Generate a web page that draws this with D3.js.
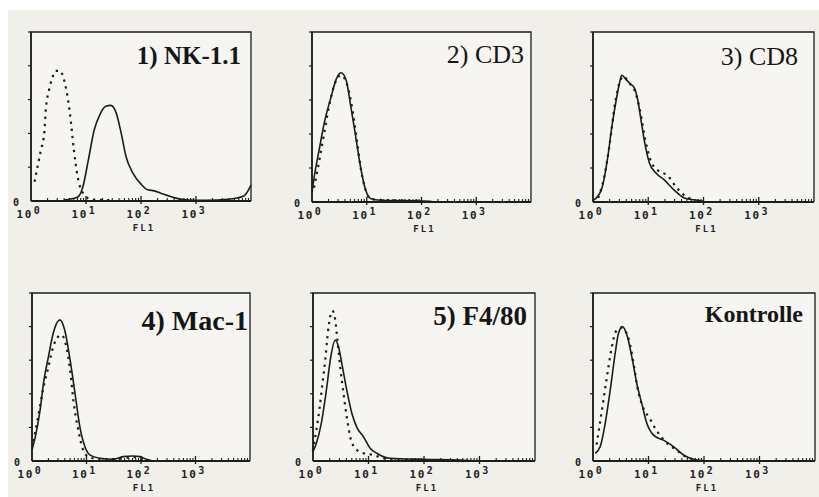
<!DOCTYPE html>
<html>
<head>
<meta charset="utf-8">
<script src="https://cdn.jsdelivr.net/npm/d3@7"></script>
<style>
  body { margin: 0; background: #ffffff; }
  .title { font-family: "Liberation Serif", "Times New Roman", serif; fill: #161616; }
  .tick-label { font-family: "DejaVu Sans Mono", monospace; font-weight: bold; fill: #222; }
</style>
</head>
<body>
<div id="my_dataviz"></div>
<script>
// panel titles
var titles = ["1) NK-1.1", "2) CD3", "3) CD8", "4) Mac-1", "5) F4/80", "Kontrolle"];

// x axis decades (FL1, log) and y ticks
var xDecades = [1, 10, 100, 1000, 10000];
var xTickLabels = ["10", "10", "10", "10"];
var xTickExps = ["0", "1", "2", "3"];
var yTicks = [0, 1, 2, 3, 4, 5];

// histograms: [FL1, count]
var nkSolid = [[3.98,0.03],[7.08,0.12],[8.71,0.4],[11,1.2],[14.1,2.1],[17.8,2.55],[22.9,2.8],[28.2,2.83],[35.5,2.6],[43.7,2.0],[53.7,1.3],[70.8,0.83],[100,0.5],[132,0.33],[174,0.3],[229,0.23],[398,0.1],[708,0.03],[1500,0.02],[3800,0.05],[7410,0.15],[10000,0.47]];
var nkDotted = [[1.17,0.6],[1.51,1.5],[1.74,2.0],[1.86,2.7],[2.14,3.3],[2.51,3.7],[2.82,3.85],[3.39,3.85],[3.8,3.7],[4.37,3.3],[5.01,2.7],[6.03,1.5],[7.08,0.7],[9.33,0.18],[12.3,0.05],[20,0.03],[32,0.02]];

var cd3Solid = [[1,0.3],[1.1,0.75],[1.35,1.53],[1.66,2.3],[2.24,3.1],[2.75,3.6],[3.39,3.8],[4.17,3.6],[5.13,2.8],[6.31,1.9],[7.76,1.0],[9.55,0.35],[11.7,0.1],[17.8,0.05],[110,0.03],[200,0.0]];
var cd3Dotted = [[1.1,0.45],[1.35,1.2],[1.66,2.0],[2.04,2.8],[2.51,3.4],[3.39,3.73],[4.47,3.4],[5.5,2.7],[6.61,1.8],[7.76,1.0],[9.55,0.35],[12,0.08],[30,0.05],[100,0.04]];

var cd8Solid = [[1,0.04],[1.41,0.35],[1.82,1.24],[2.19,2.2],[2.63,3.0],[3.02,3.5],[3.31,3.73],[3.98,3.6],[4.57,3.5],[5.62,3.35],[6.46,3.0],[7.41,2.4],[8.51,1.8],[10.5,1.15],[13.8,0.85],[19.5,0.65],[29.5,0.35],[44.7,0.12],[77.6,0.05],[100,0.02]];
var cd8Dotted = [[1.26,0.15],[1.58,0.7],[2.0,1.7],[2.51,2.9],[3.16,3.6],[3.55,3.7],[4.47,3.5],[5.62,3.3],[7.08,2.7],[8.91,1.8],[11.2,1.2],[15.8,0.9],[22.4,0.78],[31.6,0.45],[44.7,0.2],[70.8,0.05]];

var macSolid = [[1,0.33],[1.15,0.72],[1.41,1.52],[1.62,2.3],[2.0,3.1],[2.45,3.8],[3.24,4.2],[3.98,3.9],[5.01,3.0],[6.17,2.0],[7.59,1.0],[9.33,0.43],[11.5,0.18],[17.8,0.08],[30.9,0.05],[46.8,0.13],[70.8,0.15],[95.5,0.13],[126,0.05],[166,0.0]];
var macDotted = [[1.07,0.62],[1.29,1.3],[1.58,2.1],[2.0,2.8],[2.45,3.4],[3.02,3.7],[3.47,3.75],[4.27,3.4],[5.01,2.7],[5.75,1.8],[7.08,0.92],[8.71,0.33],[11.5,0.1],[20,0.05],[50,0.08],[70.8,0.12],[100,0.06],[130,0.02]];

var f480Solid = [[1,0.28],[1.15,0.53],[1.41,1.12],[1.74,2.1],[2.09,3.1],[2.51,3.6],[2.88,3.4],[3.31,2.9],[4.07,2.1],[5.01,1.42],[6.17,1.0],[8.13,0.72],[10.7,0.38],[14.1,0.23],[24.5,0.08],[95.5,0.05],[447,0.03],[1000,0.0]];
var f480Dotted = [[1,0.33],[1.15,0.92],[1.32,1.6],[1.48,2.3],[1.66,3.0],[1.82,3.7],[2.04,4.3],[2.24,4.47],[2.51,4.2],[2.75,3.6],[3.09,2.8],[3.55,2.0],[4.07,1.3],[4.68,0.72],[5.75,0.38],[8.13,0.23],[12.3,0.18],[18.6,0.08],[40,0.03],[100,0.03]];

var ktrSolid = [[1.1,0.23],[1.35,0.43],[1.66,1.12],[2.04,2.1],[2.51,3.2],[2.88,3.8],[3.39,4.0],[4.17,3.7],[5.01,3.1],[6.17,2.3],[7.59,1.7],[9.33,1.12],[12.3,0.77],[18.6,0.62],[28.2,0.43],[42.7,0.18],[64.6,0.05],[112,0.0]];
var ktrDotted = [[1.17,0.52],[1.45,1.52],[1.78,2.5],[2.19,3.4],[2.57,3.85],[3.24,3.97],[4.27,3.7],[5.25,3.0],[6.46,2.1],[7.94,1.6],[10.5,1.27],[13.8,0.92],[20.9,0.55],[31.6,0.33],[47.9,0.12],[72.4,0.03]];

var solidSeries = [nkSolid, cd3Solid, cd8Solid, macSolid, f480Solid, ktrSolid];
var dottedSeries = [nkDotted, cd3Dotted, cd8Dotted, macDotted, f480Dotted, ktrDotted];

// where each panel sits on the page (scan is not quite regular)
var layout = [
  {left: 31,  top: 32,  w: 220, h: 169, padR: 10, base: 32, size: 25, weight: "bold"},
  {left: 312, top: 32,  w: 219, h: 170, padR: 7,  base: 31, size: 26, weight: "normal"},
  {left: 593, top: 32,  w: 221, h: 170, padR: 16, base: 33, size: 26, weight: "normal"},
  {left: 32,  top: 293, w: 218, h: 168, padR: 2,  base: 37, size: 28, weight: "bold"},
  {left: 313, top: 293, w: 222, h: 168, padR: 8,  base: 32, size: 27, weight: "bold"},
  {left: 593, top: 293, w: 222, h: 168, padR: 12, base: 29, size: 24, weight: "bold"}
];

var W = 819, H = 497;

var svg = d3.select("#my_dataviz")
  .append("svg")
    .attr("width", W)
    .attr("height", H);

// scanned paper background, white strip on top/left
svg.append("rect")
    .attr("x", 8).attr("y", 10)
    .attr("width", W - 8).attr("height", H - 10)
    .attr("fill", "#f1efe9");

var ink = "#1c1c1c";

layout.forEach(function(p, i) {
  var g = svg.append("g")
      .attr("transform", "translate(" + p.left + "," + p.top + ")");

  var xScale = d3.scaleLog()
      .domain([1, 10000])
      .range([0, p.w]);
  var yScale = d3.scaleLinear()
      .domain([0, 5])
      .range([p.h, 0]);

  // plot area a little lighter than the page
  g.append("rect")
      .attr("width", p.w).attr("height", p.h)
      .attr("fill", "#f6f5f1");

  // frame
  g.append("path")
      .attr("fill", "none")
      .attr("stroke", ink)
      .attr("stroke-width", 1.3)
      .attr("d", "M0," + p.h + "V0H" + p.w + "V" + p.h);

  // bottom + left axis lines
  g.append("line")
      .attr("x1", 0).attr("x2", p.w)
      .attr("y1", p.h).attr("y2", p.h)
      .attr("stroke", ink).attr("stroke-width", 1.8);
  g.append("line")
      .attr("x1", 0).attr("x2", 0)
      .attr("y1", 0).attr("y2", p.h)
      .attr("stroke", ink).attr("stroke-width", 1.6);

  // y ticks point outwards
  g.selectAll(".ytick")
    .data(yTicks.slice(1))
    .enter().append("line")
      .attr("x1", -3).attr("x2", 0)
      .attr("y1", function(d) { return yScale(d); })
      .attr("y2", function(d) { return yScale(d); })
      .attr("stroke", ink).attr("stroke-width", 1.2);

  // the lone "0" sits above the 10^0 label
  g.append("text")
      .attr("class", "tick-label")
      .attr("x", -18).attr("y", p.h + 5)
      .attr("font-size", 10)
      .text(yTicks[0]);

  // log minor ticks pointing up, decade ticks longer
  var minor = [];
  for (var k = 0; k < xDecades.length - 1; k++) {
    for (var m = 2; m < 10; m++) minor.push(xDecades[k] * m);
  }
  g.selectAll(".xminor")
    .data(minor)
    .enter().append("line")
      .attr("x1", function(d) { return xScale(d); })
      .attr("x2", function(d) { return xScale(d); })
      .attr("y1", p.h).attr("y2", p.h - 3)
      .attr("stroke", ink).attr("stroke-width", 1.1);
  g.selectAll(".xmajor")
    .data(xDecades.slice(1, 4))
    .enter().append("line")
      .attr("x1", function(d) { return xScale(d); })
      .attr("x2", function(d) { return xScale(d); })
      .attr("y1", p.h + 3).attr("y2", p.h - 5)
      .attr("stroke", ink).attr("stroke-width", 1.3);

  var lab = g.selectAll(".xlab")
    .data(xTickLabels)
    .enter().append("text")
      .attr("class", "tick-label")
      .attr("x", function(d, j) { return xScale(xDecades[j]) - 2; })
      .attr("y", p.h + 17)
      .attr("font-size", 11)
      .attr("letter-spacing", 1.5)
      .attr("text-anchor", "middle");
  lab.append("tspan").text(function(d) { return d; });
  lab.append("tspan")
      .attr("font-size", 10)
      .attr("dx", 1).attr("dy", -4)
      .text(function(d, j) { return xTickExps[j]; });

  g.append("text")
      .attr("class", "tick-label")
      .attr("x", p.w / 2 + 3).attr("y", p.h + 30)
      .attr("font-size", 9)
      .attr("letter-spacing", 2)
      .attr("text-anchor", "middle")
      .text("FL1");

  var line = d3.line()
      .x(function(d) { return xScale(d[0]); })
      .y(function(d) { return yScale(d[1]); })
      .curve(d3.curveMonotoneX);

  g.append("path")
      .attr("fill", "none")
      .attr("stroke", ink)
      .attr("stroke-width", 2.2)
      .attr("stroke-linecap", "square")
      .attr("stroke-dasharray", "0.1,7")
      .attr("d", line(dottedSeries[i]));

  g.append("path")
      .attr("fill", "none")
      .attr("stroke", ink)
      .attr("stroke-width", 1.6)
      .attr("d", line(solidSeries[i]));

  g.append("text")
      .attr("class", "title")
      .attr("x", p.w - p.padR)
      .attr("y", p.base)
      .attr("text-anchor", "end")
      .attr("font-size", p.size)
      .attr("font-weight", p.weight)
      .text(titles[i]);
});
</script>
</body>
</html>
